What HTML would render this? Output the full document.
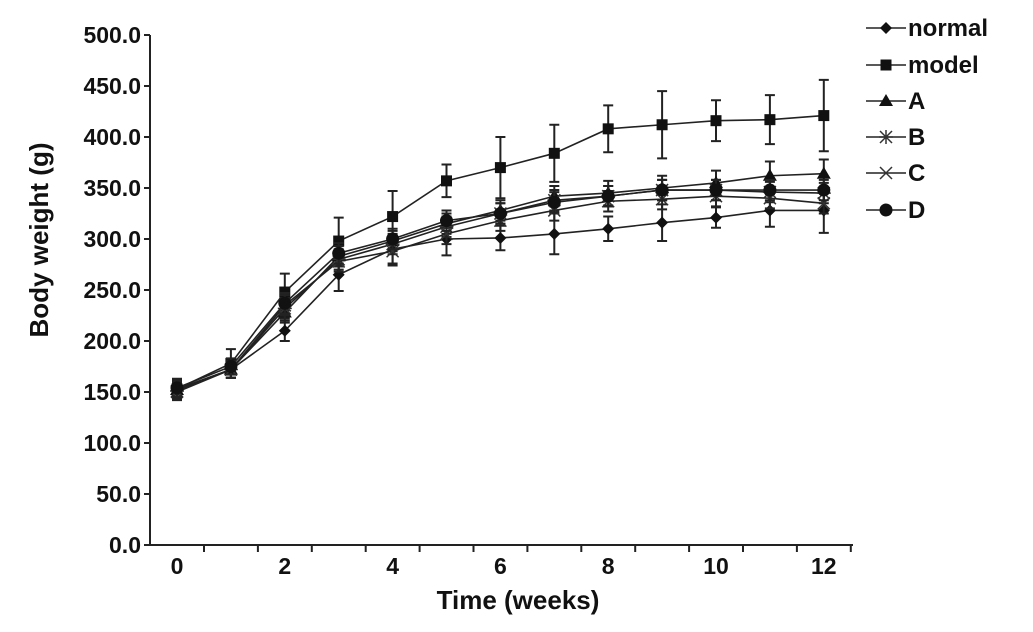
<!DOCTYPE html>
<html><head><meta charset="utf-8"><style>
body{margin:0;background:#fff;}
svg text{font-family:"Liberation Sans",Arial,sans-serif;font-weight:bold;fill:#111;}
</style></head><body>
<svg id="chart" width="1033" height="627" viewBox="0 0 1033 627" xmlns="http://www.w3.org/2000/svg">
<g id="axes"></g>
<g id="series"></g>
<g id="legend"></g>
<text x="518" y="609" font-size="26" text-anchor="middle">Time (weeks)</text>
<text transform="translate(48,240) rotate(-90)" font-size="26" text-anchor="middle">Body weight (g)</text>
</svg>
<script>
const weeks=[0,1,2,3,4,5,6,7,8,9,10,11,12];
const normalVals=[153,172,210,265,290,300,301,305,310,316,321,328,328];
const normalErr=[8,8,10,16,14,16,12,20,12,18,10,16,22];
const modelVals=[153,178,248,298,322,357,370,384,408,412,416,417,421];
const modelErr=[10,14,18,23,25,16,30,28,23,33,20,24,35];
const aVals=[152,172,228,283,298,315,328,342,345,350,355,362,364];
const aErr=[8,8,10,10,10,10,10,10,12,12,12,14,14];
const bVals=[151,172,232,280,295,312,325,338,342,348,348,346,345];
const bErr=[8,8,10,10,10,10,10,10,10,10,10,10,10];
const cVals=[150,172,235,278,288,305,318,328,337,339,342,340,335];
const cErr=[8,8,10,10,14,10,10,10,10,10,10,10,10];
const dVals=[154,175,237,286,300,318,325,336,342,348,348,348,348];
const dErr=[8,8,10,10,10,10,10,10,10,10,10,10,10];
const yTicks=[0,50,100,150,200,250,300,350,400,450,500];
const xLabels=[0,2,4,6,8,10,12];
const seriesNames=["normal","model","A","B","C","D"];
const markers=["diamond","square","triangle","star","x","circle"];

const NS="http://www.w3.org/2000/svg";
const X=w=>177+w*53.9;
const Y=v=>545-v*1.02;
function mk(tag,attrs,parent){const e=document.createElementNS(NS,tag);for(const k in attrs)e.setAttribute(k,attrs[k]);parent.appendChild(e);return e;}
const axes=document.getElementById('axes');
let l=mk('line',{x1:150,y1:Y(500),x2:150,y2:545,stroke:'#222','stroke-width':2},axes);


l=mk('line',{x1:150,y1:545,x2:853,y2:545,stroke:'#222','stroke-width':2},axes);


yTicks.forEach(v=>{
  const t=mk('line',{x1:144,y1:Y(v),x2:150,y2:Y(v),stroke:'#222','stroke-width':2},axes);
  
  
  const tx=mk('text',{x:141,y:Y(v)+8,'font-size':23,'text-anchor':'end'},axes);
  tx.textContent=v.toFixed(1);
  
  
});
weeks.forEach(w=>{
  const t=mk('line',{x1:X(w)+27,y1:545,x2:X(w)+27,y2:552,stroke:'#222','stroke-width':2},axes);
  
  
});
xLabels.forEach(w=>{
  const tx=mk('text',{x:X(w),y:574,'font-size':23,'text-anchor':'middle'},axes);
  tx.textContent=w;
  
  
});
function marker(type,x,y,g){
  let e;
  if(type==='diamond')e=mk('polygon',{points:`${x},${y-6} ${x+6},${y} ${x},${y+6} ${x-6},${y}`,fill:'#111'},g);
  else if(type==='square')e=mk('rect',{x:x-5.5,y:y-5.5,width:11,height:11,fill:'#111'},g);
  else if(type==='triangle')e=mk('polygon',{points:`${x},${y-7} ${x+7},${y+5} ${x-7},${y+5}`,fill:'#111'},g);
  else if(type==='circle')e=mk('circle',{cx:x,cy:y,r:6.5,fill:'#111'},g);
  else if(type==='x')e=mk('path',{d:`M${x-6},${y-6}L${x+6},${y+6}M${x+6},${y-6}L${x-6},${y+6}`,stroke:'#333','stroke-width':1.5,fill:'none'},g);
  else e=mk('path',{d:`M${x-6},${y-6}L${x+6},${y+6}M${x+6},${y-6}L${x-6},${y+6}M${x},${y-7}L${x},${y+7}M${x-7},${y}L${x+7},${y}`,stroke:'#333','stroke-width':1.5,fill:'none'},g);
  return e;
}
const data=[[normalVals,normalErr],[modelVals,modelErr],[aVals,aErr],[bVals,bErr],[cVals,cErr],[dVals,dErr]];
const sg=document.getElementById('series');
data.forEach(([vals,errs],i)=>{
  const g=mk('g',{},sg);
  
  
  const p=mk('polyline',{points:vals.map((v,j)=>X(weeks[j])+','+Y(v)).join(' '),fill:'none',stroke:'#222','stroke-width':1.6},g);
  
  
  vals.forEach((v,j)=>{
    const x=X(weeks[j]);
    const eb=mk('path',{d:`M${x},${Y(v+errs[j])}L${x},${Y(v-errs[j])}M${x-5},${Y(v+errs[j])}L${x+5},${Y(v+errs[j])}M${x-5},${Y(v-errs[j])}L${x+5},${Y(v-errs[j])}`,stroke:'#222','stroke-width':2,fill:'none'},g);
    
    
    const m=marker(markers[i],x,Y(v),g);
    
    
  });
});
const lg=document.getElementById('legend');
const ly=[28,65,101,137,173,210];
seriesNames.forEach((n,i)=>{
  const g=mk('g',{},lg);
  
  
  mk('line',{x1:866,y1:ly[i],x2:906,y2:ly[i],stroke:'#222','stroke-width':1.6},g);
  marker(markers[i],886,ly[i],g);
  const t=mk('text',{x:908,y:ly[i]+8,'font-size':24},g);
  t.textContent=n;
});
</script>
</body></html>
